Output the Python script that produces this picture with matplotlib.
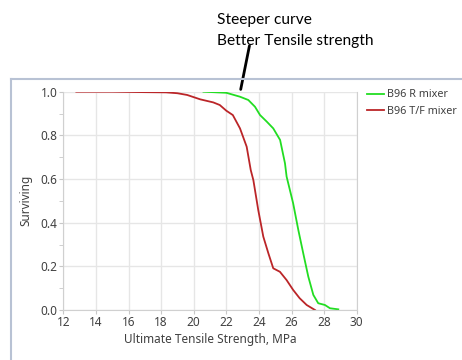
import matplotlib.pyplot as plt
from matplotlib.lines import Line2D
import numpy as np

# B96 T/F mixer (red)
tf_x = [12.8, 15.0, 17.0, 18.3, 19.0, 19.6, 20.4, 21.2, 21.6, 22.0, 22.4, 22.84,
        23.25, 23.5, 23.66, 23.96, 24.27, 24.58, 24.88, 25.29, 25.7, 26.1,
        26.5, 26.93, 27.44]
tf_y = [1.0, 1.0, 0.998, 0.997, 0.993, 0.985, 0.965, 0.951, 0.939, 0.913, 0.893,
        0.832, 0.748, 0.641, 0.595, 0.458, 0.336, 0.26, 0.191, 0.175, 0.137,
        0.092, 0.054, 0.023, 0.0]

# B96 R mixer (green)
r_x = [20.6, 22.0, 22.84, 23.35, 23.76, 24.07, 24.48, 24.88, 25.3, 25.6, 25.7,
       26.1, 26.42, 26.72, 27.03, 27.34, 27.64, 28.05, 28.36, 28.87]
r_y = [1.0, 0.995, 0.977, 0.962, 0.931, 0.893, 0.863, 0.832, 0.779, 0.672,
       0.611, 0.489, 0.366, 0.26, 0.153, 0.069, 0.031, 0.023, 0.008, 0.003]

xticks = np.arange(12, 31, 2)
yticks = [0.0, 0.2, 0.4, 0.6, 0.8, 1.0]

plt.rcParams['font.family'] = ['Noto Sans', 'DejaVu Sans']

fig = plt.figure(figsize=(4.62, 3.6), dpi=100)
ax = fig.add_axes([63.3 / 462, 1 - 310 / 360, (356.7 - 63.3) / 462, (310 - 91.7) / 360])

ax.plot(r_x, r_y, color='#22dd22', lw=1.3, label='B96 R mixer')
ax.plot(tf_x, tf_y, color='#bb2528', lw=1.3, label='B96 T/F mixer')

ax.set_xlim(12, 30)
ax.set_ylim(0, 1)
ax.set_xticks(xticks)
ax.set_yticks(yticks)
ax.set_yticks(np.arange(0.1, 1.0, 0.2), minor=True)
ax.set_yticklabels(['%.1f' % v for v in yticks])
ax.grid(True, color='#e6e6e6', lw=1)
ax.set_axisbelow(True)
for s in ax.spines.values():
    s.set_color('#d0d0d0')
ax.spines['top'].set_visible(False)
ax.tick_params(axis='both', which='both', colors='#c8c8c8', labelcolor='#404040',
               labelsize=8.5, length=3, pad=1)

ax.set_xlabel('Ultimate Tensile Strength, MPa', fontsize=8.5, color='#404040', labelpad=3)
ax.set_ylabel('Surviving', fontsize=8.5, color='#404040', labelpad=6)

ax.legend(loc='upper left', bbox_to_anchor=(1.02, 1.03), frameon=False,
          fontsize=7.8, handlelength=1.6, handletextpad=0.25, labelspacing=0.5,
          labelcolor='#404040', borderaxespad=0)

# annotation
ax.annotate('', xy=(22.85, 0.998), xytext=(250 / 462, 1 - 43 / 360),
            textcoords='figure fraction',
            arrowprops=dict(arrowstyle='-', color='black', lw=2))
fig.text(217 / 462, 1 - 24 / 360, 'Steeper curve', fontsize=11.2, family='Lato')
fig.text(217 / 462, 1 - 45 / 360, 'Better Tensile strength', fontsize=11.2, family='Lato')

# outer frame
fig.add_artist(Line2D([11 / 462, 11 / 462], [0, 1 - 79 / 360], color='#b8c2d4', lw=1.5))
fig.add_artist(Line2D([11 / 462, 1], [1 - 79 / 360, 1 - 79 / 360], color='#b8c2d4', lw=1.5))

fig.savefig('out.png', dpi=100)
plt.close()
